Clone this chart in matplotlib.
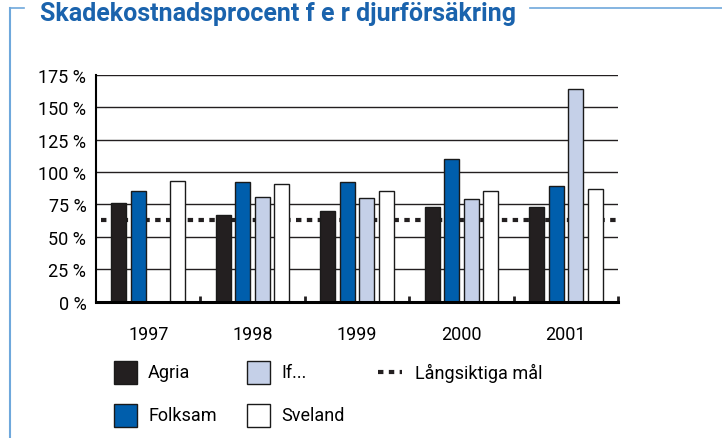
import matplotlib
matplotlib.use('Agg')
import matplotlib.pyplot as plt
import numpy as np
from matplotlib.patches import Rectangle
from matplotlib.lines import Line2D

plt.rcParams['font.family'] = ['Roboto', 'DejaVu Sans']

# Data
years = ['1997', '1998', '1999', '2000', '2001']
companies = ['Agria', 'Folksam', 'If...', 'Sveland']
agria = [76, 67, 70, 73, 73]
folksam = [85, 92, 92, 110, 89]
if_ = [np.nan, 81, 80, 79, 164]
sveland = [93, 91, 85, 85, 87]
target = 63
target_label = 'Långsiktiga mål'
y_ticks = [0, 25, 50, 75, 100, 125, 150, 175]
title = 'Skadekostnadsprocent f e r djurförsäkring'

colors = {'Agria': '#231f20', 'Folksam': '#005eac', 'If...': '#c5d0e8', 'Sveland': '#ffffff'}
title_color = '#1a63ad'
frame_color = '#6fa8dc'

W, H = 722, 439
fig = plt.figure(figsize=(W / 100, H / 100), dpi=100)


def fx(px):
    return px / W


def fy(py):
    return 1 - py / H


ax = fig.add_axes([fx(96), fy(302.7), fx(618) - fx(96), fy(75.7) - fy(302.7)])

series = [agria, folksam, if_, sveland]
offsets = [-0.28, -0.093, 0.094, 0.28]
x = np.arange(len(years))
for name, vals, off in zip(companies, series, offsets):
    ax.bar(x + off, vals, width=0.144, color=colors[name], edgecolor='#1a1a1a',
           linewidth=1.0, zorder=3)

ax.axhline(target, xmin=0.01, xmax=1, color='#231f20', linewidth=3,
           linestyle=(0, (1.3, 1.3)), dash_capstyle='butt', zorder=2)

ax.set_xlim(-0.5, 4.5)
ax.set_ylim(0, 175)
ax.set_yticks(y_ticks)
ax.set_yticklabels([f'{v} %' for v in y_ticks])
ax.set_xticks(x)
ax.set_xticklabels(years)
ax.set_xticks(np.arange(0.5, 5.0, 1.0), minor=True)
ax.tick_params(axis='both', which='major', length=0, labelsize=13)
ax.tick_params(axis='y', pad=7)
ax.tick_params(axis='x', pad=17)
ax.tick_params(axis='x', which='minor', direction='in', length=4, width=2, color='#231f20')
ax.yaxis.grid(True, color='#231f20', linewidth=1)
ax.set_axisbelow(True)
for side in ['top', 'right']:
    ax.spines[side].set_visible(False)
ax.spines['left'].set_linewidth(1.5)
ax.spines['bottom'].set_linewidth(2.2)
ax.spines['bottom'].set_zorder(4)

# Title and frame
fig.text(fx(40), fy(20.5), title, fontsize=18, fontweight='bold', color=title_color,
         va='baseline', ha='left')
fig.add_artist(Line2D([fx(530), fx(722)], [fy(9), fy(9)], color=frame_color, lw=1.2))
fig.add_artist(Line2D([fx(10), fx(24)], [fy(9), fy(9)], color=frame_color, lw=1.2))
fig.add_artist(Line2D([fx(10), fx(10)], [fy(9), fy(439)], color=frame_color, lw=1.5))

# Legend
legend_pos = {'Agria': (114, 373), 'Folksam': (114, 416), 'If...': (247, 373), 'Sveland': (247, 416)}
for name in companies:
    px, py = legend_pos[name]
    fig.add_artist(Rectangle((fx(px), fy(py + 11.5)), fx(23), 23 / H, facecolor=colors[name],
                             edgecolor='#1a1a1a', linewidth=1.0))
    fig.text(fx(px + 34), fy(py), name, fontsize=13, va='center', ha='left')
fig.add_artist(Line2D([fx(378), fx(402)], [fy(373), fy(373)], color='#231f20', lw=3,
                      linestyle=(0, (1.3, 1.3)), dash_capstyle='butt'))
fig.text(fx(415), fy(373), target_label, fontsize=13, va='center', ha='left')

fig.savefig('out.png', dpi=100)
